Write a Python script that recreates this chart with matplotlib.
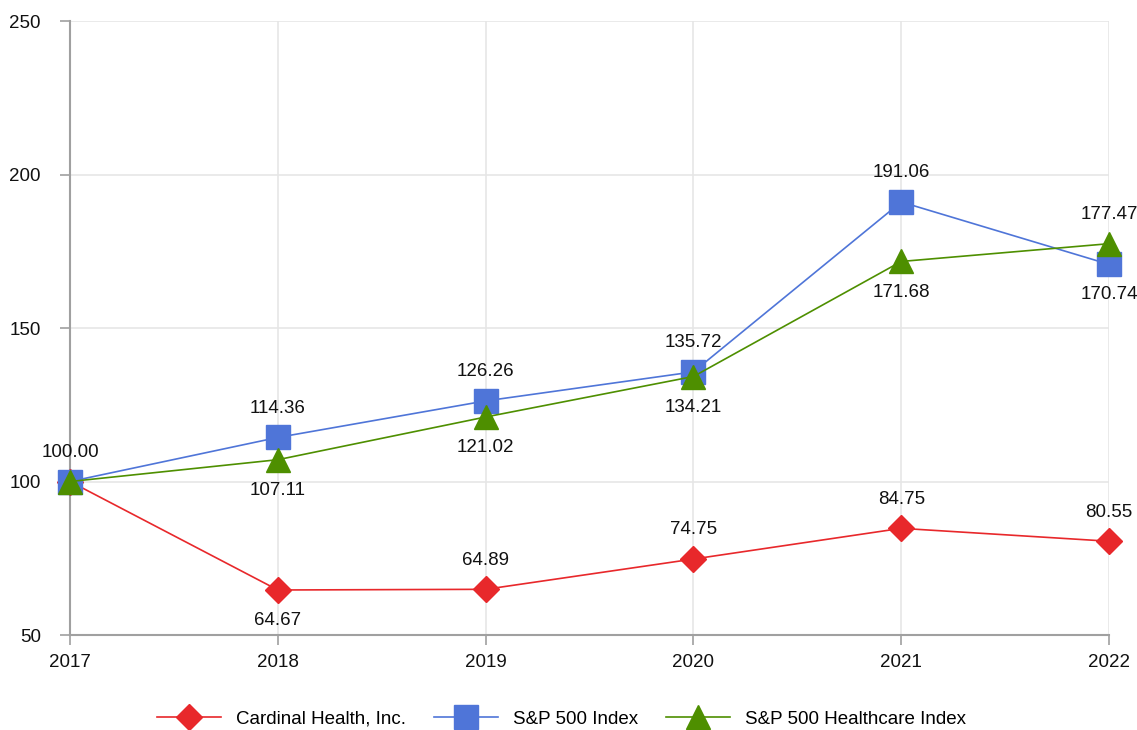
import matplotlib.pyplot as plt

plt.rcParams['font.family'] = ['Liberation Sans', 'DejaVu Sans']

years = ["2017", "2018", "2019", "2020", "2021", "2022"]
cardinal = [100.00, 64.67, 64.89, 74.75, 84.75, 80.55]
sp500 = [100.00, 114.36, 126.26, 135.72, 191.06, 170.74]
health = [100.00, 107.11, 121.02, 134.21, 171.68, 177.47]

# label placement: +1 above the point, -1 below, 0 none
cardinal_pos = [1, -1, 1, 1, 1, 1]
sp500_pos = [0, 1, 1, 1, 1, -1]
health_pos = [0, -1, -1, -1, -1, 1]

red = "#e8282b"
blue = "#4f75d8"
green = "#4e8f00"

fig = plt.figure(figsize=(11.37, 7.3), dpi=100)
ax = fig.add_axes([0.0616, 0.1301, 0.9138, 0.8411])
x = range(len(years))

ax.plot(x, cardinal, color=red, lw=1.2, marker="D", ms=13, mec=red, mfc=red,
        label="Cardinal Health, Inc.", clip_on=False, zorder=3)
ax.plot(x, sp500, color=blue, lw=1.2, marker="s", ms=17, mec=blue, mfc=blue,
        label="S&P 500 Index", clip_on=False, zorder=4)
ax.plot(x, health, color=green, lw=1.2, marker="^", ms=17, mec=green, mfc=green,
        label="S&P 500 Healthcare Index", clip_on=False, zorder=5)

for vals, pos in [(cardinal, cardinal_pos), (sp500, sp500_pos), (health, health_pos)]:
    for i, (v, p) in enumerate(zip(vals, pos)):
        if p == 0:
            continue
        off = 21 if p > 0 else -22
        ax.annotate(f"{v:.2f}", (i, v), xytext=(0, off), textcoords="offset points",
                    ha="center", va="center", fontsize=13.5, color="#111111",
                    annotation_clip=False, zorder=6)

ax.set_xlim(0, 5)
ax.set_ylim(50, 250)
ax.set_xticks(list(x))
ax.set_xticklabels(years)
ax.set_yticks([50, 100, 150, 200, 250])
ax.grid(True, color="#e6e6e6", lw=1.2)
ax.set_axisbelow(True)
for s in ["top", "right"]:
    ax.spines[s].set_visible(False)
for s in ["left", "bottom"]:
    ax.spines[s].set_color("#a0a0a0")
    ax.spines[s].set_linewidth(1.5)
ax.tick_params(axis="both", colors="#a0a0a0", length=7, width=1.2, labelsize=13.5,
               labelcolor="#111111")
ax.tick_params(axis="y", pad=14)
ax.tick_params(axis="x", pad=7)

fig.legend(*ax.get_legend_handles_labels(), loc="center", bbox_to_anchor=(0.494, 0.015),
           ncol=3, frameon=False, fontsize=13.5, handlelength=3.4, columnspacing=1.5,
           borderaxespad=0)

fig.savefig("out.png", dpi=100)
